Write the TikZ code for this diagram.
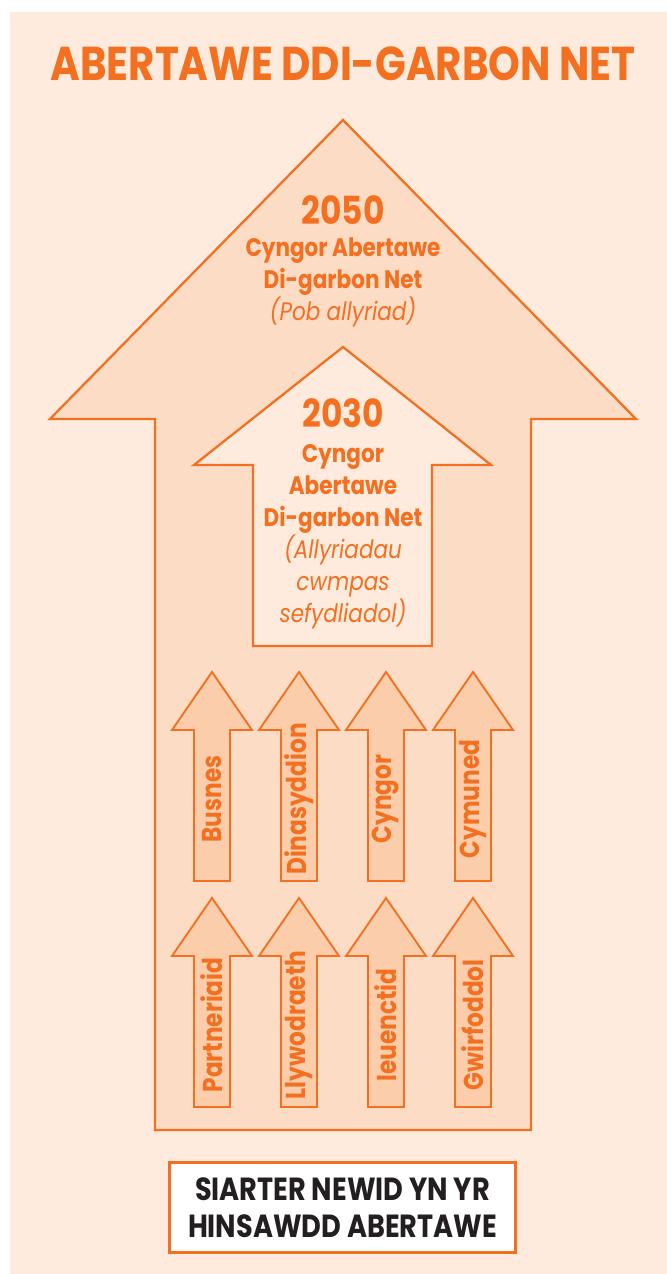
\documentclass[tikz,border=0pt]{standalone}
\usepackage{fontspec}
\setmainfont{Poppins}[FakeStretch=0.85]
\usetikzlibrary{positioning}
\definecolor{swOrange}{HTML}{F37021}
\definecolor{swPeach}{HTML}{FEEBDD}
\definecolor{swBig}{HTML}{FCDCC5}
\definecolor{swSmall}{HTML}{FBCDAB}
\definecolor{swDark}{HTML}{231F20}

\begin{document}
\begin{tikzpicture}[x=0.75pt, y=-0.75pt,
    outline/.style={draw=swOrange, line width=1.7pt, line join=miter},
    bigtxt/.style={text=swOrange, font=\bfseries\fontsize{19}{24}\selectfont, align=center, anchor=base, inner sep=0pt},
    yeartxt/.style={text=swOrange, font=\bfseries\fontsize{29}{30}\selectfont, anchor=base, inner sep=0pt},
    lbl/.style={text=swOrange, font=\bfseries\fontsize{20.5}{22}\selectfont, rotate=90, inner sep=0pt}]

    \useasboundingbox (0,0) rectangle (667,1274);
    \fill[swPeach] (10,12) rectangle (667,1274);

    \coordinate (a0) at (343,120);
    \coordinate (a1) at (636,419);
    \coordinate (a2) at (531,419);
    \coordinate (a3) at (531,1130);
    \coordinate (a4) at (155,1130);
    \coordinate (a5) at (155,419);
    \coordinate (a6) at (50,419);

    \coordinate (b0) at (343,347);
    \coordinate (b1) at (491,465);
    \coordinate (b2) at (432,465);
    \coordinate (b3) at (432,646);
    \coordinate (b4) at (253,646);
    \coordinate (b5) at (253,465);
    \coordinate (b6) at (194,465);

    \draw[outline, fill=swBig] (a0) -- (a1) -- (a2) -- (a3) -- (a4) -- (a5) -- (a6) -- cycle;
    \draw[outline, fill=swPeach] (b0) -- (b1) -- (b2) -- (b3) -- (b4) -- (b5) -- (b6) -- cycle;

    \foreach \x/\top/\lab in {212/672/Busnes, 299/672/Dinasyddion, 386/672/Cyngor, 473/672/Cymuned,
                              212/898/Partneriaid, 299/898/Llywodraeth, 386/898/Ieuenctid, 473/898/Gwirfoddol} {
      \draw[outline, line width=1.4pt, fill=swSmall] (\x,\top) -- (\x+40,\top+58) -- (\x+18,\top+58) -- (\x+18,\top+209)
        -- (\x-18,\top+209) -- (\x-18,\top+58) -- (\x-40,\top+58) -- cycle;
      \node[lbl] (l-\lab) at (\x,\top+127) {\lab};
    }

    \node[text=swOrange, font=\bfseries\fontsize{35.6}{36}\selectfont, anchor=base, inner sep=0pt] (title) at (343,80) {ABERTAWE DDI-GARBON NET};

    \node[yeartxt] (y2050) at (343,224) {2050};
    \node[bigtxt] (t2050) at (343,320) {Cyngor Abertawe\\Di-garbon Net\\{\mdseries\itshape (Pob allyriad)}};

    \node[yeartxt] (y2030) at (343,427) {2030};
    \node[bigtxt] (t2030) at (343,622) {Cyngor\\Abertawe\\Di-garbon Net\\{\mdseries\itshape (Allyriadau}\\{\mdseries\itshape cwmpas}\\{\mdseries\itshape sefydliadol)}};

    \node[draw=swOrange, line width=2.2pt, fill=white, minimum width=260pt, minimum height=67pt, align=center,
      text=swDark, font=\bfseries\fontsize{24}{28}\selectfont] (siarter) at (342.5,1207.5) {SIARTER NEWID YN YR\\HINSAWDD ABERTAWE};
\end{tikzpicture}
\end{document}
